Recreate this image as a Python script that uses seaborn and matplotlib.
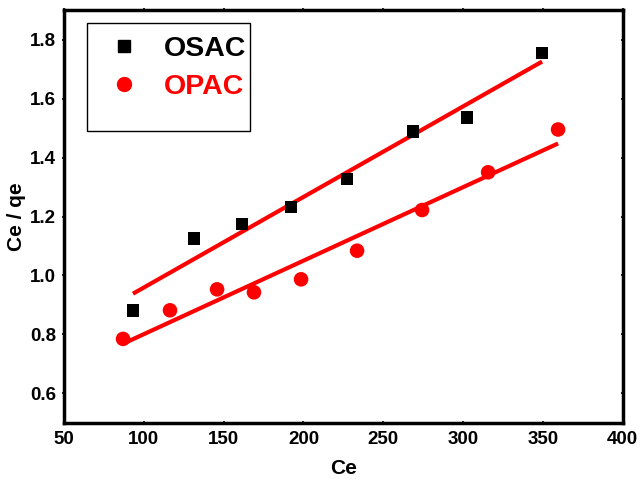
import matplotlib
matplotlib.use("Agg")
import matplotlib.pyplot as plt
import seaborn as sns
import pandas as pd
import numpy as np
from matplotlib.lines import Line2D
from matplotlib.patches import Rectangle
from matplotlib.ticker import MultipleLocator

sns.set_theme(style="white")
plt.rcParams['font.family'] = ['Liberation Sans', 'DejaVu Sans']
plt.rcParams['font.weight'] = 'bold'
plt.rcParams['text.color'] = 'black'
plt.rcParams['axes.labelcolor'] = 'black'
plt.rcParams['xtick.color'] = 'black'
plt.rcParams['ytick.color'] = 'black'

osac_ce = [93.2, 131.5, 161.5, 192.2, 227.3, 268.7, 302.5, 349.5]
osac_ratio = [0.882, 1.125, 1.175, 1.232, 1.327, 1.488, 1.535, 1.754]
opac_ce = [87.0, 116.4, 145.9, 169.0, 198.5, 233.6, 274.3, 315.7, 359.5]
opac_ratio = [0.785, 0.882, 0.953, 0.943, 0.987, 1.084, 1.222, 1.350, 1.495]
labels = ["OSAC", "OPAC"]

df_s = pd.DataFrame({"Ce": osac_ce, "ratio": osac_ratio})
df_p = pd.DataFrame({"Ce": opac_ce, "ratio": opac_ratio})

fig = plt.figure(figsize=(6.4, 4.79), dpi=100)
ax = fig.add_axes([0.1, 0.117, 0.873, 0.862])

sns.regplot(data=df_s, x="Ce", y="ratio", ax=ax, ci=None, scatter=False,
            line_kws=dict(color="#ff0000", lw=3, solid_capstyle="butt"))
sns.regplot(data=df_p, x="Ce", y="ratio", ax=ax, ci=None, scatter=False,
            line_kws=dict(color="#ff0000", lw=3, solid_capstyle="butt"))
sns.scatterplot(data=df_s, x="Ce", y="ratio", ax=ax, marker="s", s=80,
                color="black", edgecolor="none", zorder=3)
sns.scatterplot(data=df_p, x="Ce", y="ratio", ax=ax, marker="o", s=110,
                color="#ff0000", edgecolor="none", zorder=3)

ax.set_xlim(50, 400)
ax.set_ylim(0.5, 1.9)
ax.xaxis.set_major_locator(MultipleLocator(50))
ax.xaxis.set_minor_locator(MultipleLocator(25))
ax.yaxis.set_major_locator(MultipleLocator(0.2))
ax.yaxis.set_minor_locator(MultipleLocator(0.1))
ax.set_yticks([0.6, 0.8, 1.0, 1.2, 1.4, 1.6, 1.8])
ax.set_yticklabels(["0.6", "0.8", "1.0", "1.2", "1.4", "1.6", "1.8"])

for sp in ax.spines.values():
    sp.set_linewidth(2.5)
    sp.set_color("black")
    sp.set_visible(True)

ax.tick_params(which="both", direction="inout", length=3, width=1.2,
               top=True, right=True, bottom=True, left=True, color="black",
               labelcolor="black", labelsize=13.5, pad=4)
ax.tick_params(which="minor", length=2, width=0.8)
for lab in ax.get_xticklabels() + ax.get_yticklabels():
    lab.set_fontweight("bold")

ax.set_xlabel("Ce", fontsize=15, fontweight="bold", labelpad=8, color="black")
ax.set_ylabel("Ce / qe", fontsize=15, fontweight="bold", labelpad=3, color="black")

# legend frame (drawn as a box, taller than its entries as in the original)
ax.add_patch(Rectangle((0.041, 0.707), 0.292, 0.262, transform=ax.transAxes,
                       fill=True, facecolor="white", edgecolor="black",
                       linewidth=1.0, zorder=4))

handles = [
    Line2D([], [], marker="s", color="black", linestyle="none", markersize=9),
    Line2D([], [], marker="o", color="#ff0000", linestyle="none", markersize=10),
]
leg = ax.legend(handles, labels, loc="upper left",
                bbox_to_anchor=(0.077, 0.937), frameon=False,
                prop=dict(size=20.5, weight="bold"), handletextpad=0.8,
                labelspacing=0.42, borderpad=0.0, handlelength=1.2,
                borderaxespad=0)
leg.set_zorder(5)
for t, c in zip(leg.get_texts(), ["black", "#ff0000"]):
    t.set_color(c)

fig.savefig("out.png", dpi=100)
